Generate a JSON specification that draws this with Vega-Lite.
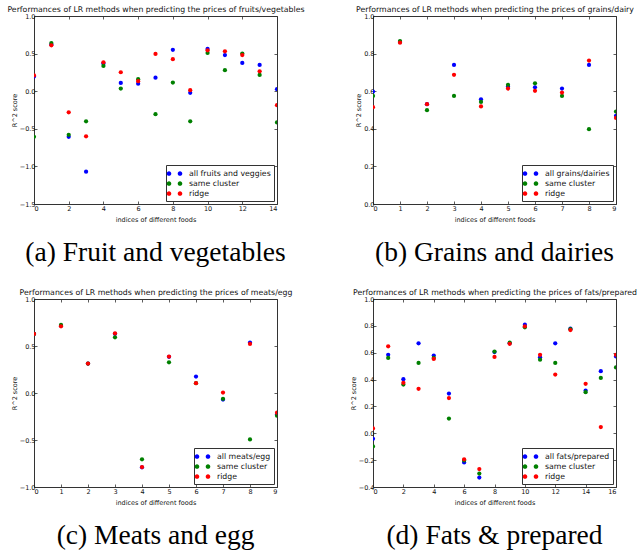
{
  "$schema": "https://vega.github.io/schema/vega-lite/v6.json",
  "padding": {"left": 6, "top": 5, "right": 0, "bottom": 0},
  "background": "white",
  "config": {
    "font": "DejaVu Sans",
    "view": {"stroke": "#333", "strokeWidth": 1},
    "axis": {
      "domain": false, "grid": false, "tickSize": -3, "tickColor": "#333", "tickWidth": 0.8,
      "labelFont": "DejaVu Sans", "labelFontSize": 6.5, "labelColor": "#111", "labelPadding": 2,
      "titleFont": "DejaVu Sans", "titleFontSize": 6.5, "titleFontWeight": "normal", "titleColor": "#111", "titlePadding": 2
    },
    "axisBottom": {"labelPadding": 4, "titlePadding": 5},
    "legend": {
      "title": null, "orient": "bottom-right", "offset": 3, "fillColor": "white", "strokeColor": "#333",
      "padding": 3, "symbolSize": 121, "labelFont": "DejaVu Sans", "labelFontSize": 7.8, "labelColor": "#111",
      "labelOffset": 9, "rowPadding": 0, "cornerRadius": 0, "symbolStrokeWidth": 0,
      "symbolType": "M -1.42 0 A 0.42 0.42 0 1 0 -0.58 0 A 0.42 0.42 0 1 0 -1.42 0 Z M 0.58 0 A 0.42 0.42 0 1 0 1.42 0 A 0.42 0.42 0 1 0 0.58 0 Z"
    },
    "title": {"font": "Liberation Serif", "fontSize": 27.5, "fontWeight": "normal", "color": "#000", "orient": "bottom", "anchor": "middle", "frame": "group", "offset": 16}
  },
  "datasets": {
    "fv": [
      {"index":0,"method":"all fruits and veggies","r2":0.195},{"index":1,"method":"all fruits and veggies","r2":0.62},{"index":2,"method":"all fruits and veggies","r2":-0.606},{"index":3,"method":"all fruits and veggies","r2":-1.07},{"index":4,"method":"all fruits and veggies","r2":0.37},{"index":5,"method":"all fruits and veggies","r2":0.11},{"index":6,"method":"all fruits and veggies","r2":0.10},{"index":7,"method":"all fruits and veggies","r2":0.18},{"index":8,"method":"all fruits and veggies","r2":0.55},{"index":9,"method":"all fruits and veggies","r2":-0.022},{"index":10,"method":"all fruits and veggies","r2":0.562},{"index":11,"method":"all fruits and veggies","r2":0.48},{"index":12,"method":"all fruits and veggies","r2":0.376},{"index":13,"method":"all fruits and veggies","r2":0.35},{"index":14,"method":"all fruits and veggies","r2":0.027},
      {"index":0,"method":"same cluster","r2":-0.606},{"index":1,"method":"same cluster","r2":0.64},{"index":2,"method":"same cluster","r2":-0.58},{"index":3,"method":"same cluster","r2":-0.40},{"index":4,"method":"same cluster","r2":0.336},{"index":5,"method":"same cluster","r2":0.035},{"index":6,"method":"same cluster","r2":0.16},{"index":7,"method":"same cluster","r2":-0.305},{"index":8,"method":"same cluster","r2":0.115},{"index":9,"method":"same cluster","r2":-0.40},{"index":10,"method":"same cluster","r2":0.509},{"index":11,"method":"same cluster","r2":0.28},{"index":12,"method":"same cluster","r2":0.50},{"index":13,"method":"same cluster","r2":0.217},{"index":14,"method":"same cluster","r2":-0.416},
      {"index":0,"method":"ridge","r2":0.21},{"index":1,"method":"ridge","r2":0.61},{"index":2,"method":"ridge","r2":-0.28},{"index":3,"method":"ridge","r2":-0.60},{"index":4,"method":"ridge","r2":0.385},{"index":5,"method":"ridge","r2":0.252},{"index":6,"method":"ridge","r2":0.133},{"index":7,"method":"ridge","r2":0.495},{"index":8,"method":"ridge","r2":0.425},{"index":9,"method":"ridge","r2":0.013},{"index":10,"method":"ridge","r2":0.544},{"index":11,"method":"ridge","r2":0.53},{"index":12,"method":"ridge","r2":0.48},{"index":13,"method":"ridge","r2":0.265},{"index":14,"method":"ridge","r2":-0.186}
    ],
    "gd": [
      {"index":0,"method":"all grains/dairies","r2":0.598},{"index":1,"method":"all grains/dairies","r2":0.862},{"index":2,"method":"all grains/dairies","r2":0.531},{"index":3,"method":"all grains/dairies","r2":0.74},{"index":4,"method":"all grains/dairies","r2":0.557},{"index":5,"method":"all grains/dairies","r2":0.625},{"index":6,"method":"all grains/dairies","r2":0.621},{"index":7,"method":"all grains/dairies","r2":0.614},{"index":8,"method":"all grains/dairies","r2":0.74},{"index":9,"method":"all grains/dairies","r2":0.469},
      {"index":0,"method":"same cluster","r2":0.575},{"index":1,"method":"same cluster","r2":0.867},{"index":2,"method":"same cluster","r2":0.499},{"index":3,"method":"same cluster","r2":0.575},{"index":4,"method":"same cluster","r2":0.543},{"index":5,"method":"same cluster","r2":0.634},{"index":6,"method":"same cluster","r2":0.642},{"index":7,"method":"same cluster","r2":0.575},{"index":8,"method":"same cluster","r2":0.398},{"index":9,"method":"same cluster","r2":0.492},
      {"index":0,"method":"ridge","r2":0.515},{"index":1,"method":"ridge","r2":0.858},{"index":2,"method":"ridge","r2":0.531},{"index":3,"method":"ridge","r2":0.687},{"index":4,"method":"ridge","r2":0.519},{"index":5,"method":"ridge","r2":0.614},{"index":6,"method":"ridge","r2":0.602},{"index":7,"method":"ridge","r2":0.593},{"index":8,"method":"ridge","r2":0.763},{"index":9,"method":"ridge","r2":0.458}
    ],
    "me": [
      {"index":0,"method":"all meats/egg","r2":0.628},{"index":1,"method":"all meats/egg","r2":0.715},{"index":2,"method":"all meats/egg","r2":0.313},{"index":3,"method":"all meats/egg","r2":0.63},{"index":4,"method":"all meats/egg","r2":-0.79},{"index":5,"method":"all meats/egg","r2":0.385},{"index":6,"method":"all meats/egg","r2":0.175},{"index":7,"method":"all meats/egg","r2":-0.07},{"index":8,"method":"all meats/egg","r2":0.536},{"index":9,"method":"all meats/egg","r2":-0.23},
      {"index":0,"method":"same cluster","r2":0.628},{"index":1,"method":"same cluster","r2":0.724},{"index":2,"method":"same cluster","r2":0.313},{"index":3,"method":"same cluster","r2":0.593},{"index":4,"method":"same cluster","r2":-0.706},{"index":5,"method":"same cluster","r2":0.327},{"index":6,"method":"same cluster","r2":0.104},{"index":7,"method":"same cluster","r2":-0.062},{"index":8,"method":"same cluster","r2":-0.494},{"index":9,"method":"same cluster","r2":-0.242},
      {"index":0,"method":"ridge","r2":0.628},{"index":1,"method":"ridge","r2":0.71},{"index":2,"method":"ridge","r2":0.313},{"index":3,"method":"ridge","r2":0.635},{"index":4,"method":"ridge","r2":-0.788},{"index":5,"method":"ridge","r2":0.388},{"index":6,"method":"ridge","r2":0.104},{"index":7,"method":"ridge","r2":0.005},{"index":8,"method":"ridge","r2":0.522},{"index":9,"method":"ridge","r2":-0.21}
    ],
    "fp": [
      {"index":0,"method":"all fats/prepared","r2":-0.041},{"index":1,"method":"all fats/prepared","r2":0.584},{"index":2,"method":"all fats/prepared","r2":0.403},{"index":3,"method":"all fats/prepared","r2":0.67},{"index":4,"method":"all fats/prepared","r2":0.579},{"index":5,"method":"all fats/prepared","r2":0.296},{"index":6,"method":"all fats/prepared","r2":-0.217},{"index":7,"method":"all fats/prepared","r2":-0.33},{"index":8,"method":"all fats/prepared","r2":0.605},{"index":9,"method":"all fats/prepared","r2":0.67},{"index":10,"method":"all fats/prepared","r2":0.809},{"index":11,"method":"all fats/prepared","r2":0.566},{"index":12,"method":"all fats/prepared","r2":0.67},{"index":13,"method":"all fats/prepared","r2":0.779},{"index":14,"method":"all fats/prepared","r2":0.318},{"index":15,"method":"all fats/prepared","r2":0.462},{"index":16,"method":"all fats/prepared","r2":0.572},
      {"index":0,"method":"same cluster","r2":-0.098},{"index":1,"method":"same cluster","r2":0.561},{"index":2,"method":"same cluster","r2":0.363},{"index":3,"method":"same cluster","r2":0.524},{"index":4,"method":"same cluster","r2":0.561},{"index":5,"method":"same cluster","r2":0.11},{"index":6,"method":"same cluster","r2":-0.202},{"index":7,"method":"same cluster","r2":-0.30},{"index":8,"method":"same cluster","r2":0.609},{"index":9,"method":"same cluster","r2":0.675},{"index":10,"method":"same cluster","r2":0.789},{"index":11,"method":"same cluster","r2":0.548},{"index":12,"method":"same cluster","r2":0.524},{"index":13,"method":"same cluster","r2":0.775},{"index":14,"method":"same cluster","r2":0.306},{"index":15,"method":"same cluster","r2":0.412},{"index":16,"method":"same cluster","r2":0.49},
      {"index":0,"method":"ridge","r2":0.036},{"index":1,"method":"ridge","r2":0.648},{"index":2,"method":"ridge","r2":0.376},{"index":3,"method":"ridge","r2":0.331},{"index":4,"method":"ridge","r2":0.554},{"index":5,"method":"ridge","r2":0.262},{"index":6,"method":"ridge","r2":-0.194},{"index":7,"method":"ridge","r2":-0.266},{"index":8,"method":"ridge","r2":0.569},{"index":9,"method":"ridge","r2":0.666},{"index":10,"method":"ridge","r2":0.797},{"index":11,"method":"ridge","r2":0.584},{"index":12,"method":"ridge","r2":0.437},{"index":13,"method":"ridge","r2":0.769},{"index":14,"method":"ridge","r2":0.368},{"index":15,"method":"ridge","r2":0.046},{"index":16,"method":"ridge","r2":0.584}
    ]
  },
  "columns": 2,
  "spacing": {"row": 95, "column": 96},
  "bounds": "flush",
  "resolve": {"scale": {"color": "independent", "x": "independent", "y": "independent"}, "legend": {"color": "independent"}},
  "concat": [
    {
      "width": 243, "height": 188,
      "data": {"name": "fv"},
      "title": {"text": "(a) Fruit and vegetables"},
      "layer": [
        {
          "mark": {"type": "point", "filled": true, "size": 18, "opacity": 1, "clip": true},
          "encoding": {
            "x": {"field": "index", "type": "quantitative", "scale": {"domain": [0, 14], "nice": false, "zero": false},
                  "axis": {"values": [0,2,4,6,8,10,12,14], "format": "d", "title": "indices of different foods"}},
            "y": {"field": "r2", "type": "quantitative", "scale": {"domain": [-1.5, 1.0], "nice": false, "zero": false},
                  "axis": {"values": [-1.5,-1,-0.5,0,0.5,1], "labelExpr": "replace(format(datum.value, '.1f'), '-', '−')", "title": "R^2 score"}},
            "color": {"field": "method", "type": "nominal", "sort": null,
                      "scale": {"domain": ["all fruits and veggies", "same cluster", "ridge"], "range": ["#0000ff", "#008000", "#ff0000"]}}
          }
        },
        {
          "mark": {"type": "point", "opacity": 0},
          "encoding": {
            "x": {"field": "index", "type": "quantitative", "scale": {"domain": [0, 14], "nice": false, "zero": false},
                  "axis": {"orient": "top", "values": [0,2,4,6,8,10,12,14], "labels": false, "title": "Performances of LR methods when predicting the prices of fruits/vegetables", "titleFontSize": 7.8, "titlePadding": 2}},
            "y": {"field": "r2", "type": "quantitative", "scale": {"domain": [-1.5, 1.0], "nice": false, "zero": false},
                  "axis": {"orient": "right", "values": [-1.5,-1,-0.5,0,0.5,1], "labels": false, "title": null}}
          }
        }
      ],
      "resolve": {"axis": {"x": "independent", "y": "independent"}}
    },
    {
      "width": 243, "height": 188,
      "data": {"name": "gd"},
      "title": {"text": "(b) Grains and dairies"},
      "layer": [
        {
          "mark": {"type": "point", "filled": true, "size": 18, "opacity": 1, "clip": true},
          "encoding": {
            "x": {"field": "index", "type": "quantitative", "scale": {"domain": [0, 9], "nice": false, "zero": false},
                  "axis": {"values": [0,1,2,3,4,5,6,7,8,9], "format": "d", "title": "indices of different foods"}},
            "y": {"field": "r2", "type": "quantitative", "scale": {"domain": [0, 1.0], "nice": false, "zero": false},
                  "axis": {"values": [0,0.2,0.4,0.6,0.8,1], "labelExpr": "replace(format(datum.value, '.1f'), '-', '−')", "title": "R^2 score"}},
            "color": {"field": "method", "type": "nominal", "sort": null,
                      "scale": {"domain": ["all grains/dairies", "same cluster", "ridge"], "range": ["#0000ff", "#008000", "#ff0000"]}}
          }
        },
        {
          "mark": {"type": "point", "opacity": 0},
          "encoding": {
            "x": {"field": "index", "type": "quantitative", "scale": {"domain": [0, 9], "nice": false, "zero": false},
                  "axis": {"orient": "top", "values": [0,1,2,3,4,5,6,7,8,9], "labels": false, "title": "Performances of LR methods when predicting the prices of grains/dairy", "titleFontSize": 7.8, "titlePadding": 2}},
            "y": {"field": "r2", "type": "quantitative", "scale": {"domain": [0, 1.0], "nice": false, "zero": false},
                  "axis": {"orient": "right", "values": [0,0.2,0.4,0.6,0.8,1], "labels": false, "title": null}}
          }
        }
      ],
      "resolve": {"axis": {"x": "independent", "y": "independent"}}
    },
    {
      "width": 243, "height": 188,
      "data": {"name": "me"},
      "title": {"text": "(c) Meats and egg"},
      "layer": [
        {
          "mark": {"type": "point", "filled": true, "size": 18, "opacity": 1, "clip": true},
          "encoding": {
            "x": {"field": "index", "type": "quantitative", "scale": {"domain": [0, 9], "nice": false, "zero": false},
                  "axis": {"values": [0,1,2,3,4,5,6,7,8,9], "format": "d", "title": "indices of different foods"}},
            "y": {"field": "r2", "type": "quantitative", "scale": {"domain": [-1.0, 1.0], "nice": false, "zero": false},
                  "axis": {"values": [-1,-0.5,0,0.5,1], "labelExpr": "replace(format(datum.value, '.1f'), '-', '−')", "title": "R^2 score"}},
            "color": {"field": "method", "type": "nominal", "sort": null,
                      "scale": {"domain": ["all meats/egg", "same cluster", "ridge"], "range": ["#0000ff", "#008000", "#ff0000"]}}
          }
        },
        {
          "mark": {"type": "point", "opacity": 0},
          "encoding": {
            "x": {"field": "index", "type": "quantitative", "scale": {"domain": [0, 9], "nice": false, "zero": false},
                  "axis": {"orient": "top", "values": [0,1,2,3,4,5,6,7,8,9], "labels": false, "title": "Performances of LR methods when predicting the prices of meats/egg", "titleFontSize": 7.8, "titlePadding": 2}},
            "y": {"field": "r2", "type": "quantitative", "scale": {"domain": [-1.0, 1.0], "nice": false, "zero": false},
                  "axis": {"orient": "right", "values": [-1,-0.5,0,0.5,1], "labels": false, "title": null}}
          }
        }
      ],
      "resolve": {"axis": {"x": "independent", "y": "independent"}}
    },
    {
      "width": 243, "height": 188,
      "data": {"name": "fp"},
      "title": {"text": "(d) Fats & prepared"},
      "layer": [
        {
          "mark": {"type": "point", "filled": true, "size": 18, "opacity": 1, "clip": true},
          "encoding": {
            "x": {"field": "index", "type": "quantitative", "scale": {"domain": [0, 16], "nice": false, "zero": false},
                  "axis": {"values": [0,2,4,6,8,10,12,14,16], "format": "d", "title": "indices of different foods"}},
            "y": {"field": "r2", "type": "quantitative", "scale": {"domain": [-0.4, 1.0], "nice": false, "zero": false},
                  "axis": {"values": [-0.4,-0.2,0,0.2,0.4,0.6,0.8,1], "labelExpr": "replace(format(datum.value, '.1f'), '-', '−')", "title": "R^2 score"}},
            "color": {"field": "method", "type": "nominal", "sort": null,
                      "scale": {"domain": ["all fats/prepared", "same cluster", "ridge"], "range": ["#0000ff", "#008000", "#ff0000"]}}
          }
        },
        {
          "mark": {"type": "point", "opacity": 0},
          "encoding": {
            "x": {"field": "index", "type": "quantitative", "scale": {"domain": [0, 16], "nice": false, "zero": false},
                  "axis": {"orient": "top", "values": [0,2,4,6,8,10,12,14,16], "labels": false, "title": "Performances of LR methods when predicting the prices of fats/prepared", "titleFontSize": 7.8, "titlePadding": 2}},
            "y": {"field": "r2", "type": "quantitative", "scale": {"domain": [-0.4, 1.0], "nice": false, "zero": false},
                  "axis": {"orient": "right", "values": [-0.4,-0.2,0,0.2,0.4,0.6,0.8,1], "labels": false, "title": null}}
          }
        }
      ],
      "resolve": {"axis": {"x": "independent", "y": "independent"}}
    }
  ]
}
